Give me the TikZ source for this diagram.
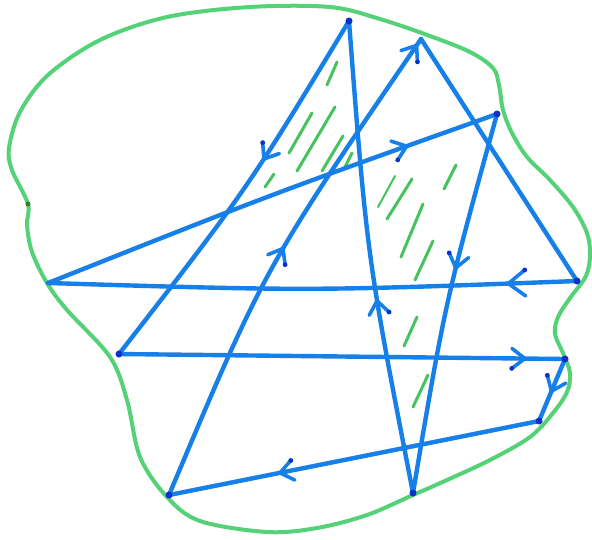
\documentclass[tikz,border=0pt]{standalone}
\usetikzlibrary{decorations.markings}
\definecolor{pen}{RGB}{22,128,232}
\definecolor{pendot}{RGB}{10,50,200}
\definecolor{blob}{RGB}{85,210,120}
\definecolor{blobdot}{RGB}{60,120,40}
\definecolor{hatchc}{RGB}{70,195,95}
\newcommand{\chev}[2]{%
  \draw[pen, line width=3.6pt, line cap=round, line join=round]
    (-#1pt,#2pt) -- (0pt,0pt) -- (-#1pt,-#2pt);
  \fill[pendot] (-#1pt,-#2pt) circle (2.4pt);}
\tikzset{
  edge/.style={draw=pen, line width=4.4pt, line cap=round, line join=round},
  arr/.style={postaction={decorate, decoration={markings,
     mark=at position #1 with {\chev{13}{10}}}}},
  arrbig/.style={postaction={decorate, decoration={markings,
     mark=at position #1 with {\chev{17}{13}}}}},
  vdot/.style={circle, fill=pendot, inner sep=0pt, minimum size=7pt},
  hatch/.style={draw=hatchc, line width=3pt, line cap=round},
  outline/.style={draw=blob, line width=4pt},
}
\begin{document}
\begin{tikzpicture}[x=1pt,y=-1pt]
\useasboundingbox (0,0) rectangle (592,539);
\fill[white] (0,0) rectangle (592,539);
% green closed outline
\draw[outline] plot[smooth cycle, tension=0.55] coordinates {
 (28,204) (12,170) (9,148) (20,112) (48,75) (100,40) (167,17) (250,7) (330,7)
 (380,19) (430,36) (470,52) (493,68) (499,85) (503,110) (512,133) (527,157)
 (550,180) (573,207) (587,233) (590,255) (586,276) (570,298) (558,317) (555,334)
 (563,353) (570,373) (567,392) (553,413) (530,437) (490,460) (447,480) (413,495)
 (367,515) (317,528) (267,532) (200,521) (167,497) (140,457) (127,400) (110,357)
 (67,310) (47,283) (32,252) (27,225)};
\node[circle, fill=blobdot, inner sep=0pt, minimum size=5pt] (start) at (28,204) {};
% hatching
\draw[hatch] (337,62) -- (327,85);
\draw[hatch] (312,113) -- (289,153);
\draw[hatch] (335,107) -- (297,171);
\draw[hatch] (343,136) -- (322,171);
\draw[hatch] (352,153) -- (345,167);
\draw[hatch] (274,174) -- (265,187);
\draw[hatch, line width=2pt] (395,176) -- (378,207);
\draw[hatch] (412,179) -- (387,219);
\draw[hatch] (423,204) -- (401,257);
\draw[hatch] (433,241) -- (415,280);
\draw[hatch] (456,165) -- (444,189);
\draw[hatch] (417,317) -- (404,346);
\draw[hatch] (428,375) -- (413,407);
% vertices
\coordinate (A) at (349,21);
\coordinate (B) at (421,39);
\coordinate (C) at (497,114);
\coordinate (D) at (48,283);
\coordinate (E) at (577,281);
\coordinate (F) at (119,354);
\coordinate (G) at (565,359);
\coordinate (H) at (539,421);
\coordinate (I) at (169,495);
\coordinate (J) at (413,493);
% closed polygon path
\draw[edge, arr=0.40] (A) .. controls (248,188) .. (F);
\draw[edge, arr=0.91] (F) -- (G);
\draw[edge, arr=0.52] (G) -- (H);
\draw[edge, arr=0.70] (H) -- (I);
\draw[edge, arr=0.52, arr=0.985] (I) .. controls (265,267) .. (B);
\draw[edge] (B) -- (E);
\draw[edge, arrbig=0.13] (E) .. controls (312,291) .. (D);
\draw[edge, arr=0.80] (D) .. controls (272,194) .. (C);
\draw[edge, arr=0.41] (C) .. controls (445,303) .. (J);
\draw[edge, arr=0.41] (J) .. controls (367,257) .. (A);
% pen dots
\node[vdot] (dA) at (A) {};
\node[vdot] (dC) at (C) {};
\node[vdot] (dE) at (E) {};
\node[vdot] (dF) at (F) {};
\node[vdot] (dG) at (G) {};
\node[vdot] (dH) at (H) {};
\node[vdot] (dI) at (I) {};
\node[vdot] (dJ) at (J) {};
\end{tikzpicture}
\end{document}
